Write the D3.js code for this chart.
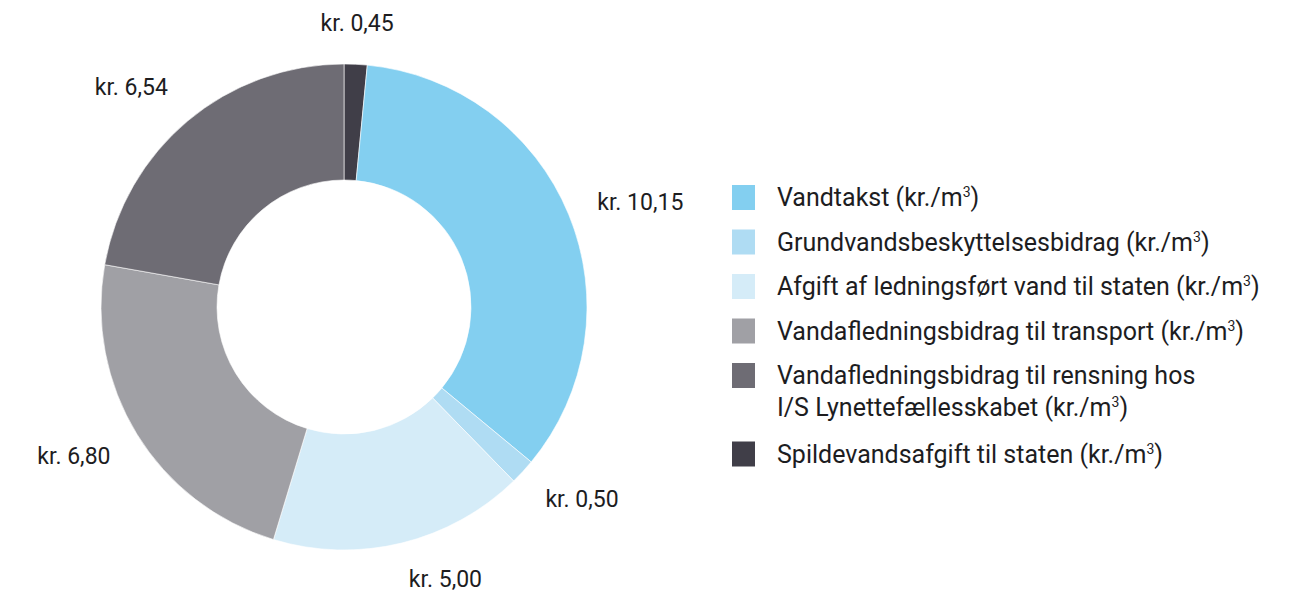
<!DOCTYPE html>
<html>
<head>
<meta charset="utf-8">
<script src="https://d3js.org/d3.v7.min.js"></script>
<style>
  body { margin: 0; background: #fff; }
  svg text { font-family: Roboto, "Noto Sans", sans-serif; fill: #1d1d1f; }
</style>
</head>
<body>
<script>
// data, clockwise from 12 o'clock
var names = [
  'Spildevandsafgift til staten',
  'Vandtakst',
  'Grundvandsbeskyttelsesbidrag',
  'Afgift af ledningsført vand til staten',
  'Vandafledningsbidrag til transport',
  'Vandafledningsbidrag til rensning hos|I/S Lynettefællesskabet'
];
var values = [0.45, 10.15, 0.50, 5.00, 6.80, 6.54];
var valueLabels = ['kr. 0,45', 'kr. 10,15', 'kr. 0,50', 'kr. 5,00', 'kr. 6,80', 'kr. 6,54'];
var colors = ['#403e48', '#83cff0', '#afdcf3', '#d5ecf8', '#a0a0a5', '#6e6c74'];
// legend order
var legendOrder = [1, 2, 3, 4, 5, 0];

var width = 1302, height = 594;
var cx = 344, cy = 307;
var outerR = 243, innerR = 127, labelR = 274;

var svg = d3.select('body').append('svg')
  .attr('width', width)
  .attr('height', height);

var pie = d3.pie().sort(null).value(d => d)(values);

var arc = d3.arc().innerRadius(innerR).outerRadius(outerR);

var g = svg.append('g')
  .attr('transform', `translate(${cx}, ${cy})`);

g.selectAll('path')
  .data(pie)
  .enter()
  .append('path')
  .attr('d', arc)
  .attr('fill', (d, i) => colors[i])
  .attr('stroke', '#fff')
  .attr('stroke-width', 0.6);

// labels: nearest edge of text sits at labelR along the mid angle
var mid = d => (d.startAngle + d.endAngle) / 2;
g.selectAll('text.val')
  .data(pie)
  .enter()
  .append('text')
  .attr('class', 'val')
  .attr('x', d => labelR * Math.sin(mid(d)))
  .attr('y', d => -labelR * Math.cos(mid(d)))
  .attr('text-anchor', d => {
    var s = Math.sin(mid(d));
    return s > 0.2 ? 'start' : s < -0.2 ? 'end' : 'middle';
  })
  .attr('dy', d => {
    var c = Math.cos(mid(d));
    return c > 0.5 ? '-0.1em' : c < -0.5 ? '0.6em' : '0.35em';
  })
  .style('font-size', '23px')
  .text((d, i) => valueLabels[i]);

// legend
var legend = svg.append('g')
  .attr('transform', 'translate(732, 185)');

var y = 0;
legendOrder.forEach(idx => {
  var lines = names[idx].split('|');
  var row = legend.append('g').attr('transform', `translate(0, ${y})`);
  row.append('rect')
    .attr('width', 23)
    .attr('height', 25)
    .attr('fill', colors[idx]);
  lines.forEach((ln, j) => {
    var t = row.append('text')
      .attr('x', 45)
      .attr('y', 12.5 + j * 32)
      .attr('dy', '0.35em')
      .style('font-size', '25px');
    t.append('tspan').text(ln);
    if (j === lines.length - 1) {
      t.append('tspan').text(' (kr./m');
      t.append('tspan').attr('dy', -9).style('font-size', '14px').text('3');
      t.append('tspan').attr('dy', 9).text(')');
    }
  });
  y += 44.5 + (lines.length - 1) * 34;
});
</script>
</body>
</html>
